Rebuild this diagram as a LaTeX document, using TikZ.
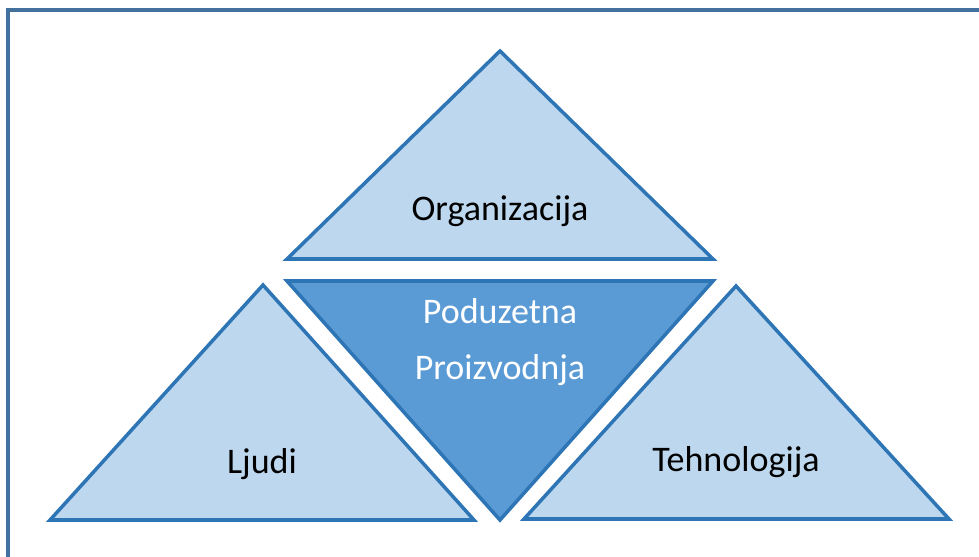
\documentclass[tikz,border=0pt]{standalone}
\usepackage{fontspec}
\setmainfont{Carlito}
\definecolor{lightfill}{HTML}{BDD7EE}
\definecolor{darkfill}{HTML}{5B9BD5}
\definecolor{edgeblue}{HTML}{2E75B6}
\definecolor{framecol}{HTML}{41719C}

\begin{document}
\begin{tikzpicture}[
		x=0.02cm, y=-0.02cm,
		tri/.style={draw=edgeblue, line width=2pt, line join=miter, fill=lightfill},
		label/.style={font=\fontsize{20.5}{31.5}\selectfont, align=center}
	]
	\clip (0,0) rectangle (979,557);
	\draw[framecol, line width=2.2pt] (8,10) rectangle (1000,580);
	% triangles
	\draw[tri] (500,51) -- (713,259) -- (287,259) -- cycle;
	\draw[tri, fill=darkfill] (287,281) -- (713,281) -- (500,520) -- cycle;
	\draw[tri] (263,285) -- (474,520) -- (50,520) -- cycle;
	\draw[tri] (736,286) -- (949,519) -- (524,519) -- cycle;
	% texts
	\node[label] (org) at (500,211) {Organizacija};
	\node[label, text=white] (pp) at (500,342) {Poduzetna\\Proizvodnja};
	\node[label] (ljudi) at (262,464) {Ljudi};
	\node[label] (tech) at (736,462) {Tehnologija};
\end{tikzpicture}
\end{document}
